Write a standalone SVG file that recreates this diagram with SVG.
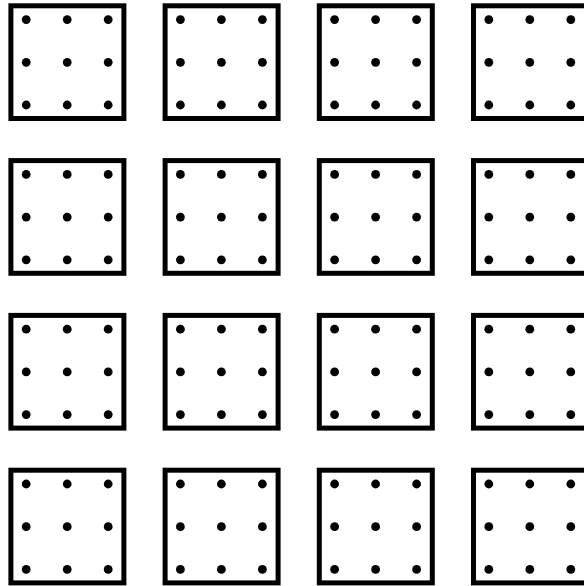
<svg xmlns="http://www.w3.org/2000/svg" xmlns:xlink="http://www.w3.org/1999/xlink" width="584" height="586" viewBox="0 0 584 586">
<defs>
<style>
.box{fill:#fff;stroke:#000;stroke-width:5}
.dot{fill:#000}
</style>
<g id="sq">
<rect class="box" x="2.5" y="2.5" width="113" height="112.7"/>
<circle class="dot" cx="17.8" cy="16.3" r="4.4"/>
<circle class="dot" cx="58.8" cy="16.3" r="4.4"/>
<circle class="dot" cx="99.8" cy="16.3" r="4.4"/>
<circle class="dot" cx="17.8" cy="59" r="4.4"/>
<circle class="dot" cx="58.8" cy="59" r="4.4"/>
<circle class="dot" cx="99.8" cy="59" r="4.4"/>
<circle class="dot" cx="17.8" cy="101.7" r="4.4"/>
<circle class="dot" cx="58.8" cy="101.7" r="4.4"/>
<circle class="dot" cx="99.8" cy="101.7" r="4.4"/>
</g>
</defs>
<rect width="584" height="586" fill="#fff"/>
<g id="n11" transform="translate(8.4,3.3)"><use xlink:href="#sq" href="#sq"/></g>
<g id="n12" transform="translate(162.6,3.3)"><use xlink:href="#sq" href="#sq"/></g>
<g id="n13" transform="translate(316.8,3.3)"><use xlink:href="#sq" href="#sq"/></g>
<g id="n14" transform="translate(471,3.3)"><use xlink:href="#sq" href="#sq"/></g>
<g id="n21" transform="translate(8.4,158.1)"><use xlink:href="#sq" href="#sq"/></g>
<g id="n22" transform="translate(162.6,158.1)"><use xlink:href="#sq" href="#sq"/></g>
<g id="n23" transform="translate(316.8,158.1)"><use xlink:href="#sq" href="#sq"/></g>
<g id="n24" transform="translate(471,158.1)"><use xlink:href="#sq" href="#sq"/></g>
<g id="n31" transform="translate(8.4,312.9)"><use xlink:href="#sq" href="#sq"/></g>
<g id="n32" transform="translate(162.6,312.9)"><use xlink:href="#sq" href="#sq"/></g>
<g id="n33" transform="translate(316.8,312.9)"><use xlink:href="#sq" href="#sq"/></g>
<g id="n34" transform="translate(471,312.9)"><use xlink:href="#sq" href="#sq"/></g>
<g id="n41" transform="translate(8.4,467.7)"><use xlink:href="#sq" href="#sq"/></g>
<g id="n42" transform="translate(162.6,467.7)"><use xlink:href="#sq" href="#sq"/></g>
<g id="n43" transform="translate(316.8,467.7)"><use xlink:href="#sq" href="#sq"/></g>
<g id="n44" transform="translate(471,467.7)"><use xlink:href="#sq" href="#sq"/></g>
<g id="connectors"/>
</svg>
